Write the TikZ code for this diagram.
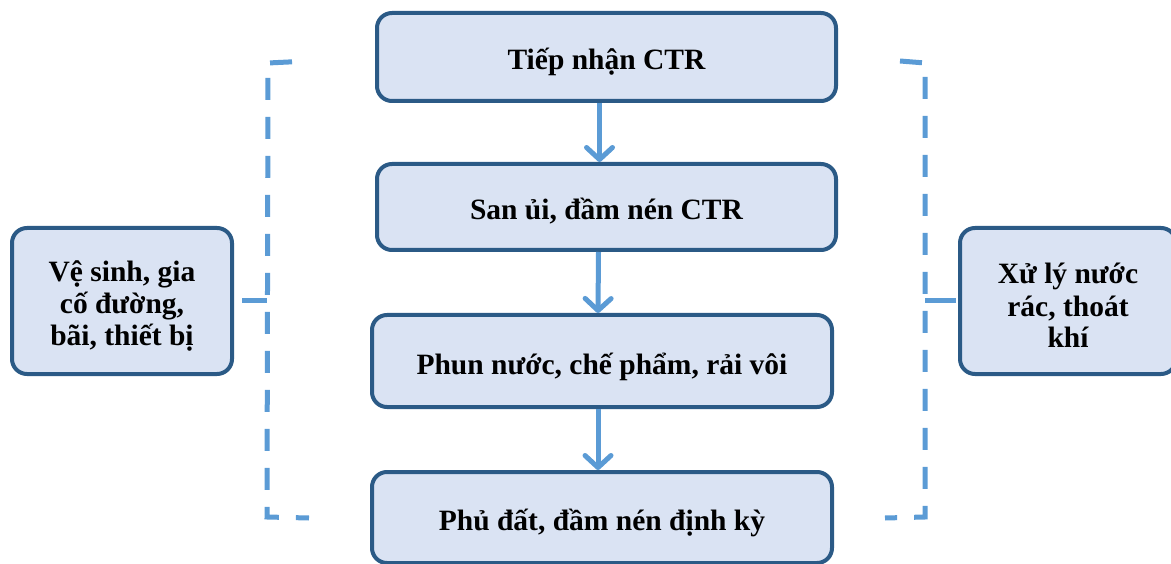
\documentclass[tikz,border=0pt]{standalone}
\usepackage{fontspec}
\setmainfont{Liberation Serif}
\usetikzlibrary{arrows.meta}
\definecolor{boxborder}{HTML}{2B5A86}
\definecolor{boxfill}{HTML}{DAE3F3}
\definecolor{lineblue}{HTML}{5B9BD5}
\tikzset{
  stepbox/.style={draw=boxborder, fill=boxfill, line width=4pt, rounded corners=15pt,
    font=\bfseries\fontsize{29.5}{32}\selectfont, align=center, inner sep=0pt},
  oneline/.style={text height=26pt, text depth=0pt},
  flowarrow/.style={draw=lineblue, line width=5pt, -{Straight Barb[length=12pt,width=26pt,round]}},
  bracketline/.style={draw=lineblue, line width=5pt, dash pattern=on 22pt off 17pt},
  tickline/.style={draw=lineblue, line width=5pt}
}
\newcommand{\firstlift}{\rule{0pt}{30pt}}
\begin{document}
\begin{tikzpicture}[x=1pt,y=-1pt]
\useasboundingbox (0,0) rectangle (1171,564);
\clip (0,0) rectangle (1171,564);
\node[stepbox, oneline, minimum width=459pt, minimum height=88pt] (b1) at (606.5,57) {Tiếp nhận CTR};
\node[stepbox, oneline, minimum width=459pt, minimum height=86pt] (b2) at (606.5,207) {San ủi, đầm nén CTR};
\node[stepbox, oneline, minimum width=460pt, minimum height=92pt] (b3) at (602,361) {Phun nước, chế phẩm, rải vôi};
\node[stepbox, oneline, minimum width=460pt, minimum height=91pt] (b4) at (602,517.5) {Phủ đất, đầm nén định kỳ};
\node[stepbox, minimum width=220pt, minimum height=146pt] (lb) at (122,301) {\firstlift Vệ sinh, gia\\cố đường,\\bãi, thiết bị};
\node[stepbox, minimum width=216pt, minimum height=146pt] (rb) at (1068,301) {\firstlift Xử lý nước\\rác, thoát\\khí};
\draw[flowarrow] ([xshift=-7pt]b1.south) -- ([xshift=-7pt]b2.north);
\draw[flowarrow] ([xshift=-8pt]b2.south) -- ([xshift=-4pt]b3.north);
\draw[flowarrow] ([xshift=-4pt]b3.south) -- ([xshift=-4pt]b4.north);
% left bracket
\coordinate (lt) at (309,61);
\coordinate (ltc) at (268,63);
\coordinate (lbc) at (267,517);
\coordinate (lbe) at (309,518);
\coordinate (lm) at (267,301);
\draw[bracketline, dash phase=22pt] (lt) -- (ltc) -- (lbc) -- (lbe);
\draw[tickline] (lb.east) ++(8pt,0) coordinate (lmt) (lmt) -- (lm);
% right bracket
\coordinate (rt) at (900,61);
\coordinate (rtc) at (925,63);
\coordinate (rbc) at (925,517);
\coordinate (rbe) at (885,518);
\coordinate (rm) at (925,301);
\draw[bracketline] (rt) -- (rtc) -- (rbc) -- (rbe);
\draw[tickline] (rm) -- ([xshift=-2pt]rb.west);
\end{tikzpicture}
\end{document}
